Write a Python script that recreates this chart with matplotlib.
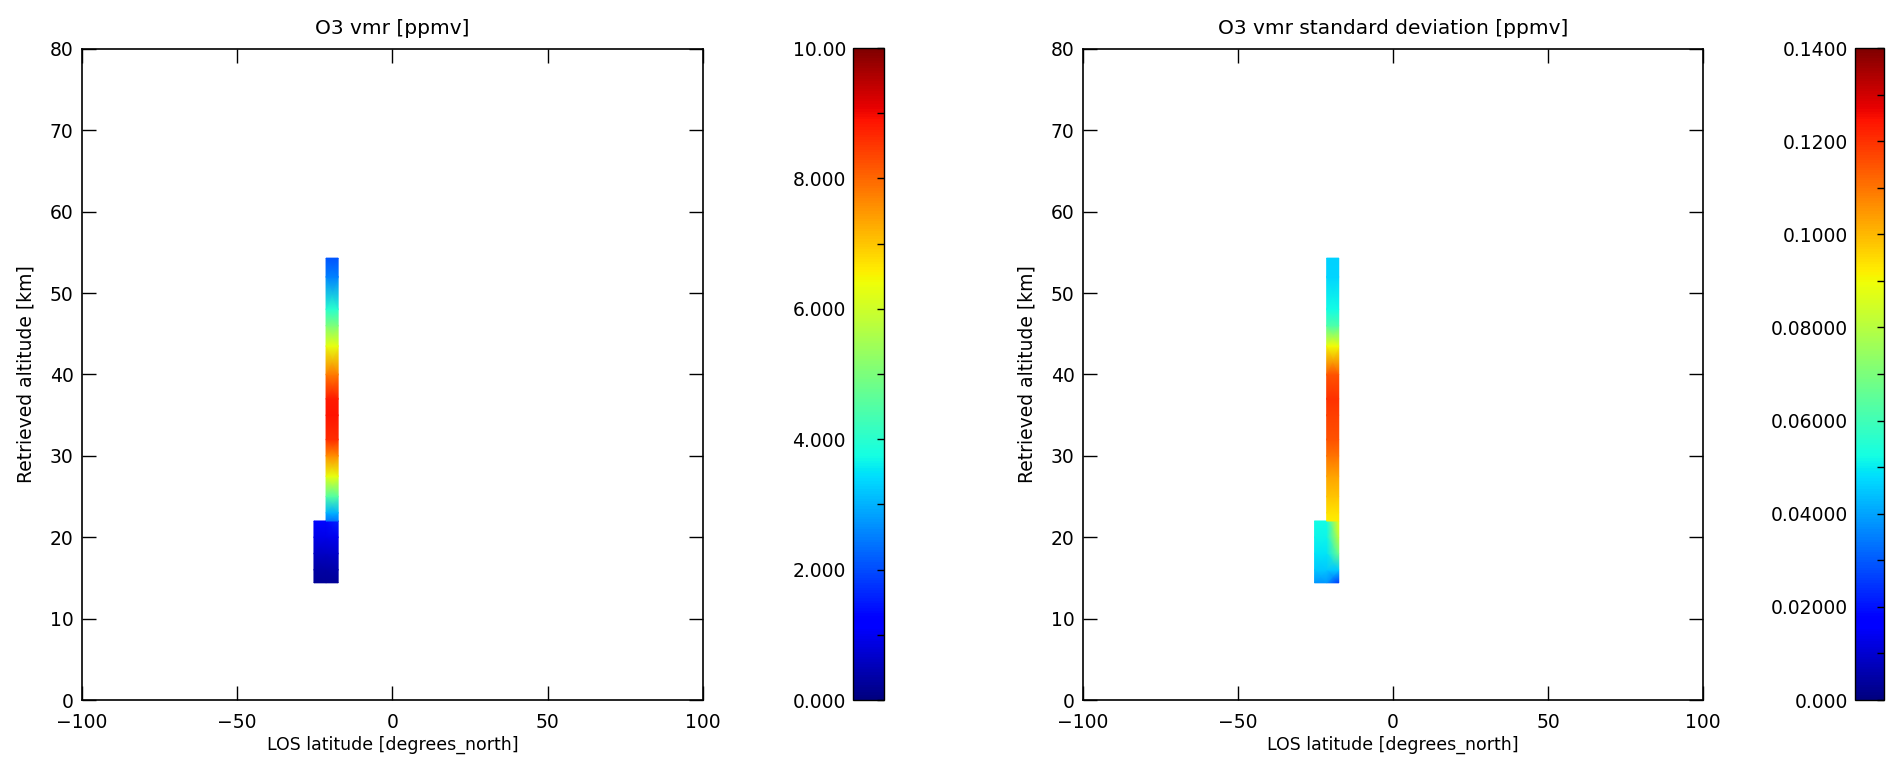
import numpy as np
import matplotlib
matplotlib.use('Agg')
import matplotlib.pyplot as plt

# altitudes [km] and latitude edges [degrees_north]
alt_lower = [14.4, 16, 18, 20, 22]
alt_upper = [22, 23, 25, 27.5, 30, 32, 35, 37, 40, 43.5, 46, 48, 52, 54.3]
lat_lower = [-25.3, -21.4, -17.5]
lat_upper = [-21.4, -17.5]

# O3 vmr [ppmv]
vmr_side_lower = [0.2, 0.35, 0.6, 0.9, 1.3]
vmr_main_lower = [0.2, 0.4, 0.7, 1.0, 1.6]
vmr_main_upper = [2.4, 3.0, 4.5, 6.3, 7.6, 8.6, 8.9, 8.8, 7.8, 6.3, 5.0, 4.0, 2.5, 2.1]

# O3 vmr standard deviation [ppmv]
std_side_lower = [0.038, 0.045, 0.049, 0.051, 0.052]
std_main_lower = [0.025, 0.045, 0.068, 0.082, 0.09]
std_main_upper = [0.092, 0.094, 0.098, 0.103, 0.11, 0.115, 0.118, 0.12, 0.115, 0.09, 0.062, 0.052, 0.047, 0.046]

vmr_ticks = [0, 2, 4, 6, 8, 10]
vmr_ticklabels = ['0.000', '2.000', '4.000', '6.000', '8.000', '10.00']
std_ticks = [0, 0.02, 0.04, 0.06, 0.08, 0.10, 0.12, 0.14]
std_ticklabels = ['0.000', '0.02000', '0.04000', '0.06000', '0.08000', '0.1000', '0.1200', '0.1400']

titles = ['O3 vmr [ppmv]', 'O3 vmr standard deviation [ppmv]']

plt.rcParams['font.family'] = 'DejaVu Sans'

fig = plt.figure(figsize=(18.89, 7.67), dpi=100)

W, H = 1889.0, 767.0
def box(x0, y0, x1, y1):
    return [x0 / W, 1 - y1 / H, (x1 - x0) / W, (y1 - y0) / H]

panels = [
    (box(82, 49, 703, 700), box(853, 48, 884, 700),
     vmr_side_lower, vmr_main_lower, vmr_main_upper, 10.0, vmr_ticks, vmr_ticklabels),
    (box(1083, 49, 1703, 700), box(1855, 48, 1884, 700),
     std_side_lower, std_main_lower, std_main_upper, 0.14, std_ticks, std_ticklabels),
]

for i, (pos, cpos, side_lo, main_lo, main_up, vmax, cticks, clabels) in enumerate(panels):
    ax = fig.add_axes(pos)
    # lower block: three latitude nodes
    z_lo = np.column_stack([side_lo, side_lo, main_lo])
    X, Y = np.meshgrid(lat_lower, alt_lower)
    ax.pcolormesh(X, Y, z_lo, cmap='jet', vmin=0, vmax=vmax, shading='gouraud')
    # upper column
    z_up = np.column_stack([main_up, main_up])
    X2, Y2 = np.meshgrid(lat_upper, alt_upper)
    m = ax.pcolormesh(X2, Y2, z_up, cmap='jet', vmin=0, vmax=vmax, shading='gouraud')

    ax.set_xlim(-100, 100)
    ax.set_ylim(0, 80)
    ax.set_xticks([-100, -50, 0, 50, 100])
    ax.set_yticks(range(0, 81, 10))
    ax.tick_params(direction='in', length=10, width=1, top=True, right=True,
                   labelsize=13.5)
    ax.tick_params(axis='x', pad=9)
    ax.tick_params(axis='y', pad=6)
    for s in ax.spines.values():
        s.set_linewidth(1.2)
    ax.set_title(titles[i], fontsize=14.5, pad=11)
    ax.set_xlabel('LOS latitude [degrees_north]', fontsize=12.5, labelpad=3)
    ax.set_ylabel('Retrieved altitude [km]', fontsize=13.5, labelpad=10)

    cax = fig.add_axes(cpos)
    cb = fig.colorbar(m, cax=cax)
    cb.set_ticks(cticks)
    cb.set_ticklabels(clabels)
    cb.outline.set_linewidth(1.0)
    cax.yaxis.set_minor_locator(matplotlib.ticker.FixedLocator(
        [(a + b) / 2 for a, b in zip(cticks[:-1], cticks[1:])]))
    cax.tick_params(which='both', left=False, right=True, labelleft=True,
                    labelright=False, direction='in', width=1)
    cax.tick_params(which='major', length=5, labelsize=13.5, pad=5)
    cax.tick_params(which='minor', length=5)

fig.savefig('out.png', dpi=100)
